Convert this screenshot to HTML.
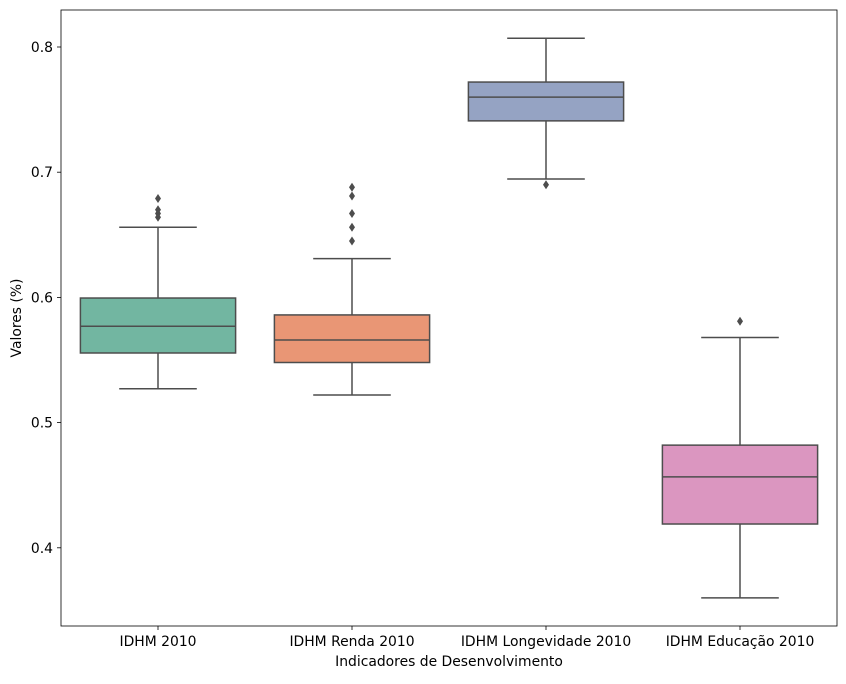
<!DOCTYPE html>
<html><head><meta charset="utf-8"><style>
body{margin:0;background:#fff;}
svg text{font-family:"DejaVu Sans","Liberation Sans",sans-serif;fill:#000;}
</style></head><body>
<svg id="chart" width="846" height="679" xmlns="http://www.w3.org/2000/svg"></svg>
<script>
const categories=["IDHM 2010","IDHM Renda 2010","IDHM Longevidade 2010","IDHM Educação 2010"];
const whiskerLow=[0.527,0.522,0.6946,0.360];
const q1=[0.5556,0.548,0.741,0.419];
const medians=[0.577,0.566,0.760,0.4566];
const q3=[0.5995,0.586,0.772,0.482];
const whiskerHigh=[0.656,0.631,0.807,0.568];
const outliers=[[0.664,0.667,0.670,0.679],[0.645,0.656,0.667,0.681,0.688],[0.690],[0.581]];
const yTicks=[0.4,0.5,0.6,0.7,0.8];
const colors=["#72b6a1","#e99675","#95a3c3","#db96c0"];

const svg=document.getElementById('chart');
const NS="http://www.w3.org/2000/svg";
const L=61,R=837,T=10,B=626;
function y(v){return 47+(0.8-v)*1252;}
const band=(R-L)/categories.length;
function xc(i){return L+band*(i+0.5);}
const bw=band*0.8;
function mk(tag,attrs,parent){const e=document.createElementNS(NS,tag);for(const k in attrs)e.setAttribute(k,attrs[k]);(parent||svg).appendChild(e);return e;}
const LC="#4d4d4d";
categories.forEach((c,i)=>{
  const g=mk('g',{});
  
  
  const x=xc(i);
  mk('line',{x1:x,x2:x,y1:y(whiskerLow[i]),y2:y(q1[i]),stroke:LC,'stroke-width':1.5},g);
  mk('line',{x1:x,x2:x,y1:y(q3[i]),y2:y(whiskerHigh[i]),stroke:LC,'stroke-width':1.5},g);
  mk('line',{x1:x-bw/4,x2:x+bw/4,y1:y(whiskerLow[i]),y2:y(whiskerLow[i]),stroke:LC,'stroke-width':1.5},g);
  mk('line',{x1:x-bw/4,x2:x+bw/4,y1:y(whiskerHigh[i]),y2:y(whiskerHigh[i]),stroke:LC,'stroke-width':1.5},g);
  mk('rect',{x:x-bw/2,y:y(q3[i]),width:bw,height:y(q1[i])-y(q3[i]),fill:colors[i],stroke:LC,'stroke-width':1.5},g);
  mk('line',{x1:x-bw/2,x2:x+bw/2,y1:y(medians[i]),y2:y(medians[i]),stroke:LC,'stroke-width':1.5},g);
  outliers[i].forEach(v=>{
    const d=mk('path',{d:`M${x} ${y(v)-4.5}L${x+3} ${y(v)}L${x} ${y(v)+4.5}L${x-3} ${y(v)}Z`,fill:LC},g);
    
    
  });
  mk('line',{x1:x,x2:x,y1:B,y2:B+4,stroke:'#000','stroke-width':0.8});
  const t=mk('text',{x:x,y:B+20,'text-anchor':'middle','font-size':13.9});
  t.textContent=c;
  
  
});
yTicks.forEach(v=>{
  mk('line',{x1:L-4,x2:L,y1:y(v),y2:y(v),stroke:'#000','stroke-width':0.8});
  const t=mk('text',{x:L-8,y:y(v)+5,'text-anchor':'end','font-size':13.9});
  t.textContent=v.toFixed(1);
  
  
});
const fr=mk('rect',{x:L,y:T,width:R-L,height:B-T,fill:'none',stroke:'#000','stroke-width':0.8});


const xt=mk('text',{x:(L+R)/2,y:666,'text-anchor':'middle','font-size':13.9});
xt.textContent='Indicadores de Desenvolvimento';


const yt=mk('text',{x:21,y:(T+B)/2,'text-anchor':'middle','font-size':13.9,transform:`rotate(-90 21 ${(T+B)/2})`});
yt.textContent='Valores (%)';


</script>
</body></html>
